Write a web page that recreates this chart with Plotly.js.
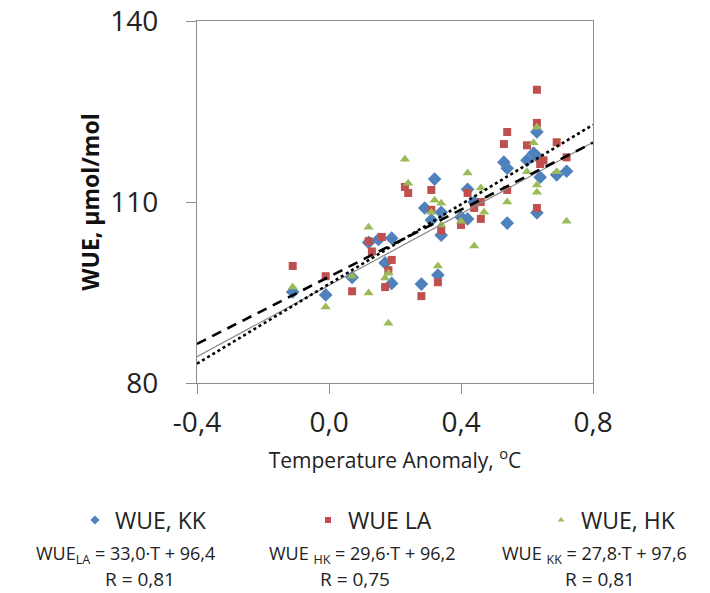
<!DOCTYPE html>
<html>
<head>
<meta charset="utf-8">
<script src="https://cdn.plot.ly/plotly-3.0.1.min.js"></script>
<style>html,body{margin:0;padding:0;background:#fff;}#chart{width:710px;height:593px;}</style>
</head>
<body>
<div id="chart"></div>
<script>
// Temperature anomaly (°C) and WUE (µmol/mol)
const kkT   = [-0.11, -0.01, 0.07, 0.12, 0.15, 0.19, 0.17, 0.19, 0.28, 0.29, 0.31, 0.32, 0.34, 0.34, 0.33, 0.42, 0.40, 0.42, 0.44, 0.53, 0.54, 0.54, 0.60, 0.63, 0.63, 0.62, 0.64, 0.63, 0.69, 0.72];
const kkWUE = [95.1, 94.6, 97.5, 103.3, 103.8, 104.0, 99.9, 96.5, 96.4, 109.0, 107.0, 113.8, 108.3, 104.5, 97.9, 112.1, 107.5, 107.2, 110.0, 116.6, 115.6, 106.5, 116.9, 121.6, 117.6, 118.1, 114.1, 108.2, 114.5, 115.1];

const laT   = [-0.11, -0.01, 0.07, 0.12, 0.13, 0.16, 0.19, 0.18, 0.17, 0.28, 0.23, 0.24, 0.31, 0.31, 0.34, 0.33, 0.42, 0.46, 0.40, 0.44, 0.46, 0.53, 0.54, 0.54, 0.60, 0.63, 0.63, 0.64, 0.65, 0.63, 0.69, 0.72];
const laWUE = [99.4, 97.7, 95.2, 103.5, 101.8, 104.2, 100.4, 98.7, 95.9, 94.4, 112.5, 111.5, 112.0, 108.7, 105.3, 96.7, 111.5, 110.0, 106.2, 109.0, 107.2, 119.6, 121.6, 112.0, 119.4, 128.6, 123.1, 116.3, 116.9, 109.0, 119.9, 117.4];

const hkT   = [-0.11, -0.01, 0.07, 0.12, 0.12, 0.18, 0.18, 0.17, 0.23, 0.24, 0.31, 0.32, 0.34, 0.34, 0.33, 0.42, 0.46, 0.47, 0.40, 0.44, 0.54, 0.60, 0.62, 0.63, 0.63, 0.63, 0.69, 0.72];
const hkWUE = [95.9, 92.6, 97.7, 94.9, 105.8, 89.9, 98.2, 97.4, 117.1, 113.1, 108.3, 110.3, 109.8, 106.2, 99.4, 114.8, 112.3, 108.3, 106.8, 102.7, 110.0, 115.0, 119.8, 122.4, 112.8, 111.6, 115.0, 106.8];

// Regression lines given on the chart: WUE = slope*T + intercept
const seriesNames = ['WUE, KK', 'WUE LA', 'WUE, HK'];
const fitSlope     = {LA: 33.0, HK: 29.6, KK: 27.8};
const fitIntercept = {LA: 96.4, HK: 96.2, KK: 97.6};
const fitRange = [-0.4, 0.8];

const xTickVals = [-0.4, 0.0, 0.4, 0.8];
const xTickText = ['-0,4', '0,0', '0,4', '0,8'];
const yTickVals = [80, 110, 140];

const BLUE = '#4F81BD', RED = '#C0504D', GREEN = '#9BBB59';
const FONT = 'Open Sans, Liberation Sans, sans-serif';

function fitLine(key) {
  return fitRange.map(t => fitSlope[key] * t + fitIntercept[key]);
}

const traces = [
  {x: kkT, y: kkWUE, mode: 'markers', type: 'scatter', name: seriesNames[0], showlegend: false,
   marker: {symbol: 'diamond', size: 10.5, color: BLUE}},
  {x: laT, y: laWUE, mode: 'markers', type: 'scatter', name: seriesNames[1], showlegend: false,
   marker: {symbol: 'square', size: 8, color: RED}},
  {x: hkT, y: hkWUE, mode: 'markers', type: 'scatter', name: seriesNames[2], showlegend: false,
   marker: {symbol: 'triangle-up', size: 9, color: GREEN}},
  {x: fitRange, y: fitLine('HK'), mode: 'lines', type: 'scatter', showlegend: false,
   line: {color: '#8a8a8a', width: 1.2}},
  {x: fitRange, y: fitLine('KK'), mode: 'lines', type: 'scatter', showlegend: false,
   line: {color: '#000', width: 2.6, dash: '10px,7px'}},
  {x: fitRange, y: fitLine('LA'), mode: 'lines', type: 'scatter', showlegend: false,
   line: {color: '#000', width: 2.6, dash: 'dot'}},
  // legend entries (one legend box per series, as in the reference)
  {x: [null], y: [null], mode: 'markers', type: 'scatter', name: seriesNames[0], legend: 'legend',
   marker: {symbol: 'diamond', size: 7, color: BLUE}},
  {x: [null], y: [null], mode: 'markers', type: 'scatter', name: seriesNames[1], legend: 'legend2',
   marker: {symbol: 'square', size: 6, color: RED}},
  {x: [null], y: [null], mode: 'markers', type: 'scatter', name: seriesNames[2], legend: 'legend3',
   marker: {symbol: 'triangle-up', size: 6, color: GREEN}}
];

const legFont = {family: FONT, size: 23, color: '#222'};
function legendAt(px) {
  return {orientation: 'h', x: (px - 197) / 396, xanchor: 'left', y: (383 - 520) / 362, yanchor: 'middle',
          font: legFont, bgcolor: 'rgba(0,0,0,0)'};
}
const eqFont = {family: FONT, size: 18, color: '#222'};
const rFont = {family: FONT, size: 19, color: '#222'};
function note(px, py, text, font) {
  return {xref: 'paper', yref: 'paper', x: (px - 197) / 396, y: (383 - py) / 362, xanchor: 'center', yanchor: 'middle',
          showarrow: false, text: text, font: font};
}

const layout = {
  width: 710, height: 593,
  margin: {l: 197, r: 117, t: 21, b: 210},
  paper_bgcolor: '#fff', plot_bgcolor: '#fff',
  font: {family: FONT, color: '#222'},
  showlegend: true,
  legend: legendAt(75),
  legend2: legendAt(308),
  legend3: legendAt(541),
  xaxis: {
    range: [-0.4, 0.8], tickvals: xTickVals, ticktext: xTickText,
    showgrid: false, zeroline: false, showline: true, mirror: true,
    linecolor: '#8c8c8c', linewidth: 1.2, ticks: 'outside', ticklen: 10, tickcolor: '#8c8c8c',
    tickfont: {family: FONT, size: 28, color: '#222'}, ticklabelstandoff: 4,
    title: {text: 'Temperature Anomaly, <sup>o</sup>C', font: {family: FONT, size: 21, color: '#222'}, standoff: 14},
    automargin: false
  },
  yaxis: {
    range: [80, 140], tickvals: yTickVals,
    showgrid: false, zeroline: false, showline: true, mirror: true,
    linecolor: '#8c8c8c', linewidth: 1.2, ticks: 'outside', ticklen: 10, tickcolor: '#8c8c8c',
    tickfont: {family: FONT, size: 28, color: '#222'}, ticklabelstandoff: 22,
    title: {text: '<b>WUE, µmol/mol</b>', font: {family: FONT, size: 23, color: '#111'}, standoff: 4},
    automargin: false
  },
  annotations: [
    note(125, 554, 'WUE<sub>LA</sub> = 33,0·T + 96,4', eqFont),
    note(140, 579, 'R = 0,81', rFont),
    note(362, 554, 'WUE <sub>HK</sub> = 29,6·T + 96,2', eqFont),
    note(355, 579, 'R = 0,75', rFont),
    note(594, 554, 'WUE <sub>KK</sub> = 27,8·T + 97,6', eqFont),
    note(600, 579, 'R = 0,81', rFont)
  ]
};

Plotly.newPlot('chart', traces, layout, {displayModeBar: false, staticPlot: true});
</script>
</body>
</html>
